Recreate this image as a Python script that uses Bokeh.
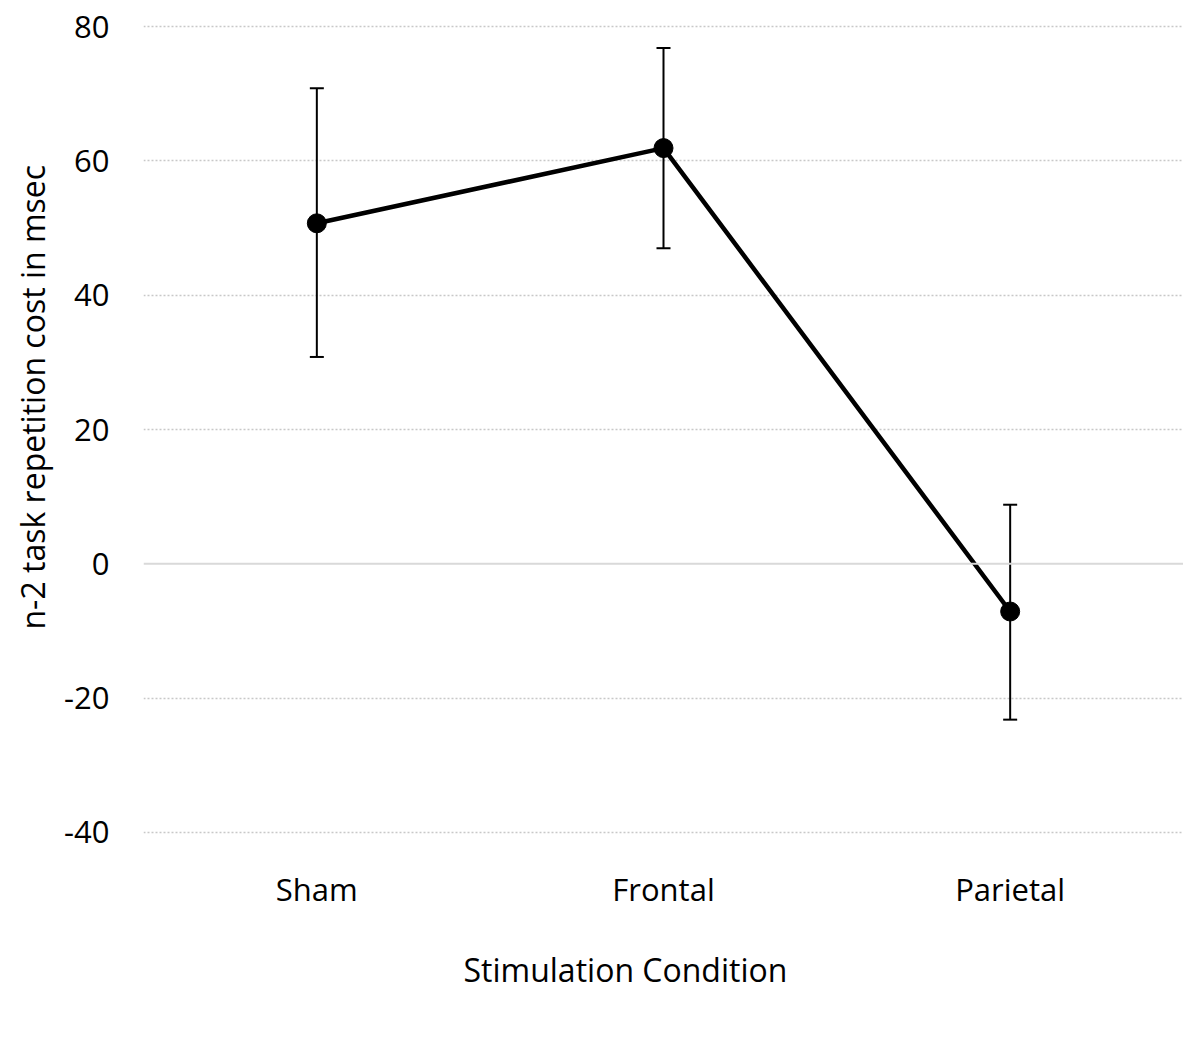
from bokeh.plotting import figure
from bokeh.models import (FactorRange, Range1d, FixedTicker, Span, Whisker, ColumnDataSource,
                          TeeHead, Title, CustomJSTickFormatter)
from bokeh.embed import file_html
from bokeh.resources import INLINE

categories = ["Sham", "Frontal", "Parietal"]
means = [50.7, 61.9, -7.1]
upper = [70.8, 76.8, 8.8]
lower = [30.8, 47.0, -23.2]
y_ticks = [-40, -20, 0, 20, 40, 60, 80]
x_title = "Stimulation Condition"
y_title = "n-2 task repetition cost in msec"

FONT = "Open Sans"

src = ColumnDataSource(dict(x=categories, y=means, upper=upper, lower=lower))

p = figure(width=1183, height=1026, output_backend="svg", toolbar_location=None,
           x_range=FactorRange(factors=categories, range_padding=0),
           y_range=Range1d(-40.3, 80.3))
p.min_border_top = 24
p.min_border_left = 141
p.min_border_right = 0
p.min_border_bottom = 192
p.outline_line_color = None
p.background_fill_color = "white"
p.border_fill_color = "white"

p.xgrid.grid_line_color = None
p.ygrid.ticker = FixedTicker(ticks=[t for t in y_ticks if t != 0])
p.ygrid.grid_line_color = "#c8c8c8"
p.ygrid.grid_line_dash = "2 2"
p.ygrid.grid_line_width = 1.5

zero = Span(location=0, dimension="width", line_color="#d9d9d9", line_width=2)
p.add_layout(zero)

w = Whisker(source=src, base="x", upper="upper", lower="lower",
            line_color="black", line_width=2,
            upper_head=TeeHead(size=14, line_color="black", line_width=2),
            lower_head=TeeHead(size=14, line_color="black", line_width=2))
p.add_layout(w)

p.line("x", "y", source=src, line_color="black", line_width=4.5)
p.scatter("x", "y", source=src, size=19, fill_color="black", line_color="black")

p.yaxis.ticker = FixedTicker(ticks=y_ticks)
p.yaxis.formatter = CustomJSTickFormatter(code="return tick.toString()")
for ax in (p.xaxis, p.yaxis):
    ax.axis_line_color = None
    ax.major_tick_line_color = None
    ax.minor_tick_line_color = None
    ax.major_label_text_font = FONT
    ax.major_label_text_color = "black"

p.yaxis.major_label_text_font_size = "31px"
p.xaxis.major_label_text_font_size = "31px"
p.yaxis.major_label_standoff = 28
p.xaxis.major_label_standoff = 27

xt = Title(text=x_title, align="left", offset=320, standoff=66,
           text_font=FONT, text_font_size="32px", text_font_style="normal",
           text_color="black")
yt = Title(text=y_title, align="left", offset=205, standoff=16,
           text_font=FONT, text_font_size="32px", text_font_style="normal",
           text_color="black")
p.add_layout(xt, "below")
p.add_layout(yt, "left")

open("out.html", "w").write(file_html(p, INLINE))
